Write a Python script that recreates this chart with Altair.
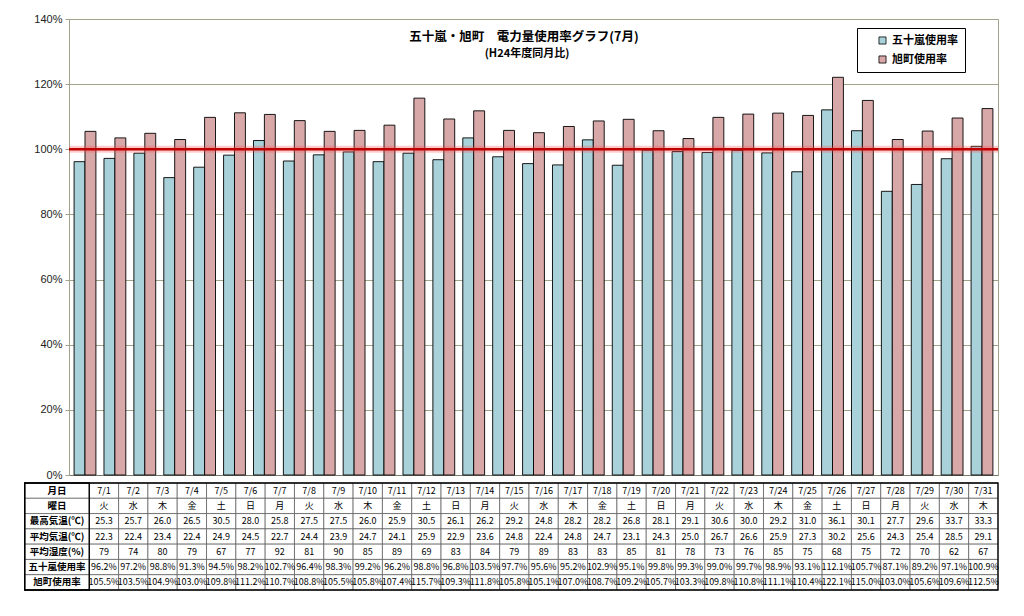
import altair as alt
import pandas as pd

FONT = "Noto Sans CJK JP"
S1 = "五十嵐使用率"
S2 = "旭町使用率"
BLUE = "#a9d1da"
PINK = "#d8a8a9"
GRID = "#a3a38c"

TITLE1 = "五十嵐・旭町　電力量使用率グラフ(7月)"
TITLE2 = "(H24年度同月比)"

days = ["7/1", "7/2", "7/3", "7/4", "7/5", "7/6", "7/7", "7/8", "7/9", "7/10",
        "7/11", "7/12", "7/13", "7/14", "7/15", "7/16", "7/17", "7/18", "7/19", "7/20",
        "7/21", "7/22", "7/23", "7/24", "7/25", "7/26", "7/27", "7/28", "7/29", "7/30", "7/31"]
weekdays = ["火", "水", "木", "金", "土", "日", "月", "火", "水", "木",
            "金", "土", "日", "月", "火", "水", "木", "金", "土", "日",
            "月", "火", "水", "木", "金", "土", "日", "月", "火", "水", "木"]
max_temp = [25.3, 25.7, 26.0, 26.5, 30.5, 28.0, 25.8, 27.5, 27.5, 26.0,
            25.9, 30.5, 26.1, 26.2, 29.2, 24.8, 28.2, 28.2, 26.8, 28.1,
            29.1, 30.6, 30.0, 29.2, 31.0, 36.1, 30.1, 27.7, 29.6, 33.7, 33.3]
avg_temp = [22.3, 22.4, 23.4, 22.4, 24.9, 24.5, 22.7, 24.4, 23.9, 24.7,
            24.1, 25.9, 22.9, 23.6, 24.8, 22.4, 24.8, 24.7, 23.1, 24.3,
            25.0, 26.7, 26.6, 25.9, 27.3, 30.2, 25.6, 24.3, 25.4, 28.5, 29.1]
humidity = [79, 74, 80, 79, 67, 77, 92, 81, 90, 85,
            89, 69, 83, 84, 79, 89, 83, 83, 85, 81,
            78, 73, 76, 85, 75, 68, 75, 72, 70, 62, 67]
igarashi = [96.2, 97.2, 98.8, 91.3, 94.5, 98.2, 102.7, 96.4, 98.3, 99.2,
            96.2, 98.8, 96.8, 103.5, 97.7, 95.6, 95.2, 102.9, 95.1, 99.8,
            99.3, 99.0, 99.7, 98.9, 93.1, 112.1, 105.7, 87.1, 89.2, 97.1, 100.9]
asahi = [105.5, 103.5, 104.9, 103.0, 109.8, 111.2, 110.7, 108.8, 105.5, 105.8,
         107.4, 115.7, 109.3, 111.8, 105.8, 105.1, 107.0, 108.7, 109.2, 105.7,
         103.3, 109.8, 110.8, 111.1, 110.4, 122.1, 115.0, 103.0, 105.6, 109.6, 112.5]
row_labels = ["月日", "曜日", "最高気温(℃)", "平均気温(℃)", "平均湿度(%)", S1, S2]
baseline = [100]

# ---------------- bar chart ----------------
bars_df = pd.DataFrame({
    "day": days + days,
    "series": [S1] * len(days) + [S2] * len(days),
    "value": igarashi + asahi,
})

yscale = alt.Scale(domain=[0, 140], nice=False)

bars = alt.Chart(bars_df).mark_bar(stroke="black", strokeWidth=0.9).encode(
    x=alt.X("day:N", sort=days,
            scale=alt.Scale(paddingInner=0.27, paddingOuter=0.17),
            axis=alt.Axis(labels=False, ticks=False, title=None, domainColor="#7a7a6a")),
    xOffset=alt.XOffset("series:N", sort=[S1, S2]),
    y=alt.Y("value:Q", scale=yscale,
            axis=alt.Axis(values=list(range(0, 141, 20)), labelExpr="datum.value + '%'",
                          title=None,
                          labelFont="Liberation Sans", labelFontSize=11, labelColor="#222",
                          labelPadding=3, tickSize=4, tickColor=GRID,
                          gridColor=GRID, domainColor=GRID)),
    color=alt.Color("series:N", sort=[S1, S2],
                    scale=alt.Scale(domain=[S1, S2], range=[BLUE, PINK]),
                    legend=alt.Legend(title=None, orient="none", legendX=788, legendY=9,
                                      direction="vertical", symbolType="square", symbolSize=50,
                                      symbolStrokeColor="black", symbolStrokeWidth=0.8,
                                      symbolOffset=13, labelOffset=4,
                                      labelFont=FONT, labelFontSize=11, labelFontWeight="bold",
                                      labelColor="black", rowPadding=7,
                                      padding=7, strokeColor="black", fillColor="white",
                                      cornerRadius=0)),
)

base_df = pd.DataFrame({"v": baseline})
glow = alt.Chart(base_df).mark_rule(color="#ff5050", strokeWidth=7, opacity=0.3).encode(
    y=alt.Y("v:Q", scale=yscale))
rule = alt.Chart(base_df).mark_rule(color="#c00000", strokeWidth=2.5).encode(
    y=alt.Y("v:Q", scale=yscale))

t1 = alt.Chart(pd.DataFrame({"t": [TITLE1]})).mark_text(
    font=FONT, fontSize=12.5, fontWeight="bold", color="black").encode(
    text="t:N", x=alt.value(455), y=alt.value(18))
t2 = alt.Chart(pd.DataFrame({"t": [TITLE2]})).mark_text(
    font=FONT, fontSize=11, fontWeight="bold", color="black").encode(
    text="t:N", x=alt.value(458), y=alt.value(35))

top = alt.layer(bars, glow, rule, t1, t2).properties(
    width=929, height=456,
    view=alt.ViewBackground(stroke=GRID, strokeWidth=1))

# ---------------- table ----------------
row_values = [
    days,
    weekdays,
    [f"{v:.1f}" for v in max_temp],
    [f"{v:.1f}" for v in avg_temp],
    [str(v) for v in humidity],
    [f"{v:.1f}%" for v in igarashi],
    [f"{v:.1f}%" for v in asahi],
]
COL_START = -0.692   # table origin, in day-column units
LABEL_X0 = -2.203    # left edge of the row-label column
cells = []
for r, lab in enumerate(row_labels):
    cells.append({"x0": LABEL_X0, "x1": 0, "y0": r, "y1": r + 1,
                  "xc": LABEL_X0 / 2, "yc": r + 0.5, "txt": lab, "kind": "label"})
    for c, txt in enumerate(row_values[r]):
        cells.append({"x0": c, "x1": c + 1, "y0": r, "y1": r + 1,
                      "xc": c + 0.5, "yc": r + 0.5, "txt": txt, "kind": "value"})
cells_df = pd.DataFrame(cells)

xs = alt.Scale(domain=[COL_START, len(days)], nice=False, zero=False)
ys = alt.Scale(domain=[0, len(row_labels)], nice=False, zero=False, reverse=True)

rects = alt.Chart(cells_df).mark_rect(fill="white", stroke="#555", strokeWidth=0.7).encode(
    x=alt.X("x0:Q", scale=xs, axis=None), x2="x1:Q",
    y=alt.Y("y0:Q", scale=ys, axis=None), y2="y1:Q")

vals = alt.Chart(cells_df).transform_filter(alt.datum.kind == "value").mark_text(
    font=FONT, fontSize=9, color="black").encode(
    x=alt.X("xc:Q", scale=xs), y=alt.Y("yc:Q", scale=ys), text="txt:N")
labs = alt.Chart(cells_df).transform_filter(alt.datum.kind == "label").mark_text(
    font=FONT, fontSize=9.5, fontWeight="bold", color="black").encode(
    x=alt.X("xc:Q", scale=xs), y=alt.Y("yc:Q", scale=ys), text="txt:N")

frame_df = pd.DataFrame({"x0": [LABEL_X0, LABEL_X0], "x1": [len(days), 0],
                         "y0": [0, 0], "y1": [len(row_labels), len(row_labels)]})
frame = alt.Chart(frame_df).mark_rect(fillOpacity=0, stroke="black", strokeWidth=1.3).encode(
    x=alt.X("x0:Q", scale=xs), x2="x1:Q", y=alt.Y("y0:Q", scale=ys), y2="y1:Q")

table = alt.layer(rects, vals, labs, frame).properties(width=929, height=107)

chart = alt.vconcat(top, table, spacing=0).properties(
    padding={"left": 15, "top": 4, "right": 5, "bottom": 5},
    background="white",
).configure_view(stroke="transparent")

chart.save("out.html", embed_options={"renderer": "svg", "actions": False})
